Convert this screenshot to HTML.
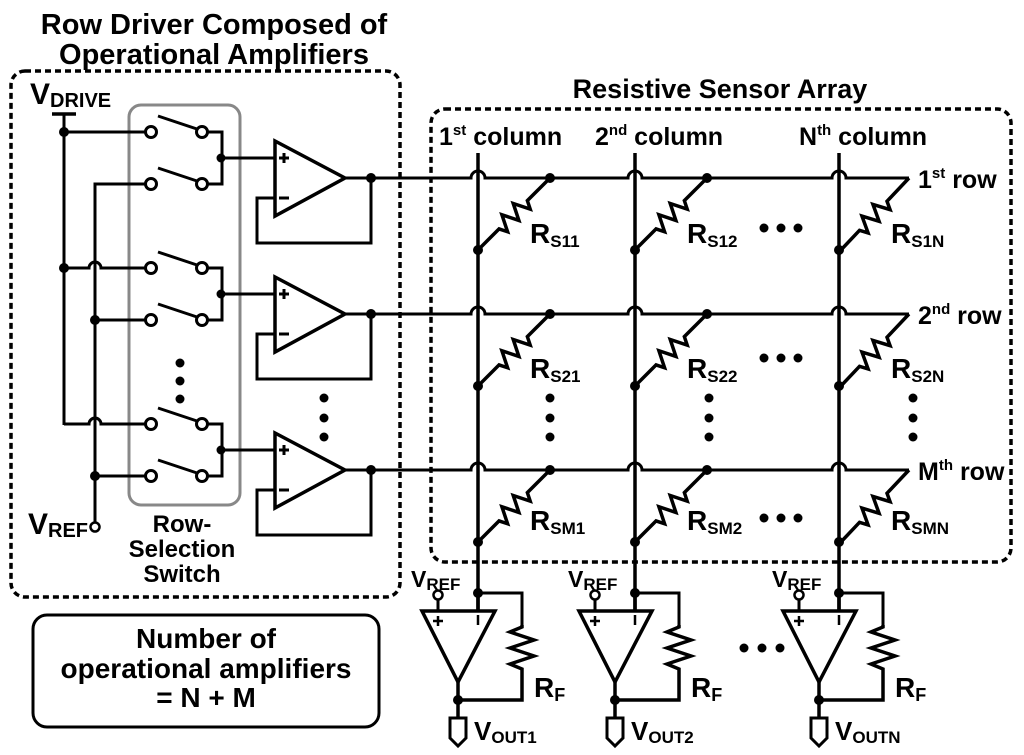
<!DOCTYPE html>
<html><head><meta charset="utf-8"><style>
html,body{margin:0;padding:0;background:#fff}
svg{display:block}
text{font-family:"Liberation Sans",Arial,sans-serif;font-weight:bold;fill:#000}
</style></head><body>
<svg width="1024" height="755" viewBox="0 0 1024 755" xmlns="http://www.w3.org/2000/svg">
<defs>
<g id="rd"><path d="M0,0 L32,0 L36,-8 L44,8 L52,-8 L60,8 L68,-8 L72,0 L102,0" fill="none" stroke="#000" stroke-width="3.5" stroke-linejoin="miter"/></g>
<g id="sw">
<circle cx="151" cy="0" r="5.5" fill="#fff" stroke="#000" stroke-width="3"/>
<circle cx="202" cy="0" r="5.5" fill="#fff" stroke="#000" stroke-width="3"/>
<line x1="158" y1="-16" x2="197" y2="-3" stroke="#000" stroke-width="3"/>
<line x1="207" y1="0" x2="223" y2="0" stroke="#000" stroke-width="3"/>
</g>
<g id="dr">
<use href="#sw" transform="translate(0,-46)"/>
<use href="#sw" transform="translate(0,6)"/>
<line x1="222" y1="-47.5" x2="222" y2="7.5" stroke="#000" stroke-width="3"/>
<circle cx="221" cy="-20" r="4.5" fill="#000"/>
<line x1="222" y1="-20" x2="275" y2="-20" stroke="#000" stroke-width="3"/>
<path d="M275,-37 L275,38 L345,0 Z" fill="#fff" stroke="#000" stroke-width="3.5" stroke-linejoin="miter"/>
<path d="M279,-20 h10 M284,-25 v10" stroke="#000" stroke-width="3"/>
<path d="M279,20 h10" stroke="#000" stroke-width="3"/>
<path d="M345,0 L371,0 L371,65 L257,65 L257,20 L275,20" fill="none" stroke="#000" stroke-width="3"/>
<circle cx="371" cy="0" r="5" fill="#000"/>
</g>
<g id="bo">
<circle cx="0" cy="593" r="5" fill="#000"/>
<path d="M0,593 L44,593 L44,625" fill="none" stroke="#000" stroke-width="3"/>
<path d="M44,625 L44,627 L32,632 L56,640 L32,648 L56,656 L32,664 L44,669 L44,700 L-20,700" fill="none" stroke="#000" stroke-width="3.5"/>
<path d="M-56,611 L17,611 L-20,682 Z" fill="#fff" stroke="#000" stroke-width="3.5"/>
<line x1="0" y1="593" x2="0" y2="611" stroke="#000" stroke-width="3.5"/>
<line x1="-40" y1="599" x2="-40" y2="611" stroke="#000" stroke-width="3"/>
<circle cx="-40" cy="595" r="4.5" fill="#fff" stroke="#000" stroke-width="2.5"/>
<path d="M-45,621 h10 M-40,616 v10" stroke="#000" stroke-width="2.5"/>
<path d="M0,615 v10" stroke="#000" stroke-width="2.5"/>
<line x1="-20" y1="682" x2="-20" y2="718" stroke="#000" stroke-width="3.5"/>
<circle cx="-20" cy="700" r="5" fill="#000"/>
<path d="M-28,718 L-12,718 L-12,738 L-20,746 L-28,738 Z" fill="#fff" stroke="#000" stroke-width="3"/>
</g>
</defs>

<text x="214" y="34" font-size="29" text-anchor="middle">Row Driver Composed of</text>
<text x="214" y="64" font-size="29" text-anchor="middle">Operational Amplifiers</text>
<text x="720" y="98" font-size="27" text-anchor="middle">Resistive Sensor Array</text>

<rect x="11" y="71" width="389" height="526" rx="14" fill="none" stroke="#000" stroke-width="3.5" stroke-dasharray="6,4"/>
<rect x="431" y="109" width="580" height="453" rx="14" fill="none" stroke="#000" stroke-width="3.5" stroke-dasharray="6,4"/>
<rect x="129" y="105" width="111" height="400" rx="12" fill="none" stroke="#888" stroke-width="3"/>

<text x="30" y="104" font-size="30">V<tspan font-size="20" dy="3">DRIVE</tspan></text>
<line x1="52" y1="114" x2="76" y2="114" stroke="#000" stroke-width="3.5"/>
<line x1="64" y1="114" x2="64" y2="425" stroke="#000" stroke-width="3"/>
<circle cx="64" cy="132" r="5" fill="#000"/>
<circle cx="64" cy="268" r="5" fill="#000"/>
<path d="M64,132 L146,132" stroke="#000" stroke-width="3"/>
<path d="M64,268 L89,268 A6,6 0 0 1 101,268 L146,268" fill="none" stroke="#000" stroke-width="3"/>
<path d="M64,424 L89,424 A6,6 0 0 1 101,424 L146,424" fill="none" stroke="#000" stroke-width="3"/>
<path d="M146,184 L95,184 L95,522" fill="none" stroke="#000" stroke-width="3"/>
<path d="M95,320 L146,320 M95,476 L146,476" stroke="#000" stroke-width="3"/>
<circle cx="95" cy="320" r="5" fill="#000"/>
<circle cx="95" cy="476" r="5" fill="#000"/>
<circle cx="95" cy="527" r="4.5" fill="#fff" stroke="#000" stroke-width="2.5"/>
<text x="28" y="534" font-size="30">V<tspan font-size="20" dy="3">REF</tspan></text>

<use href="#dr" transform="translate(0,178)"/>
<use href="#dr" transform="translate(0,314)"/>
<use href="#dr" transform="translate(0,470)"/>

<g fill="#000">
<circle cx="180" cy="363" r="4.5"/><circle cx="180" cy="381" r="4.5"/><circle cx="180" cy="399" r="4.5"/>
<circle cx="324" cy="398" r="4.5"/><circle cx="324" cy="418" r="4.5"/><circle cx="324" cy="437" r="4.5"/>
</g>
<text x="182" y="532" font-size="24" text-anchor="middle">Row-</text>
<text x="182" y="557" font-size="24" text-anchor="middle">Selection</text>
<text x="182" y="582" font-size="24" text-anchor="middle">Switch</text>

<g fill="none" stroke="#000" stroke-width="3">
<path d="M371,178 L471,178 A7,7 0 0 1 485,178 L628,178 A7,7 0 0 1 642,178 L832,178 A7,7 0 0 1 846,178 L909,178"/>
<path d="M371,314 L471,314 A7,7 0 0 1 485,314 L628,314 A7,7 0 0 1 642,314 L832,314 A7,7 0 0 1 846,314 L909,314"/>
<path d="M371,470 L471,470 A7,7 0 0 1 485,470 L628,470 A7,7 0 0 1 642,470 L832,470 A7,7 0 0 1 846,470 L909,470"/>
</g>
<g stroke="#000" stroke-width="3.5">
<line x1="478" y1="153" x2="478" y2="611"/>
<line x1="635" y1="153" x2="635" y2="611"/>
<line x1="839" y1="153" x2="839" y2="611"/>
</g>
<text x="439" y="145" font-size="25">1<tspan font-size="15" dy="-10">st</tspan><tspan dy="10"> column</tspan></text>
<text x="595" y="145" font-size="25">2<tspan font-size="15" dy="-10">nd</tspan><tspan dy="10"> column</tspan></text>
<text x="799" y="145" font-size="25">N<tspan font-size="15" dy="-10">th</tspan><tspan dy="10"> column</tspan></text>
<text x="918" y="188" font-size="25">1<tspan font-size="15" dy="-10">st</tspan><tspan dy="10"> row</tspan></text>
<text x="918" y="324" font-size="25">2<tspan font-size="15" dy="-10">nd</tspan><tspan dy="10"> row</tspan></text>
<text x="918" y="480" font-size="25">M<tspan font-size="15" dy="-10">th</tspan><tspan dy="10"> row</tspan></text>

<use href="#rd" transform="translate(550,178) rotate(135)"/>
<use href="#rd" transform="translate(707,178) rotate(135)"/>
<use href="#rd" transform="translate(909,178) rotate(133.4)"/>
<use href="#rd" transform="translate(550,314) rotate(135)"/>
<use href="#rd" transform="translate(707,314) rotate(135)"/>
<use href="#rd" transform="translate(909,314) rotate(133.4)"/>
<use href="#rd" transform="translate(550,470) rotate(135)"/>
<use href="#rd" transform="translate(707,470) rotate(135)"/>
<use href="#rd" transform="translate(909,470) rotate(133.4)"/>
<g fill="#000">
<circle cx="550" cy="178" r="5"/><circle cx="707" cy="178" r="5"/>
<circle cx="550" cy="314" r="5"/><circle cx="707" cy="314" r="5"/>
<circle cx="550" cy="470" r="5"/><circle cx="707" cy="470" r="5"/>
<circle cx="478" cy="250" r="5"/><circle cx="635" cy="250" r="5"/><circle cx="839" cy="250" r="5"/>
<circle cx="478" cy="386" r="5"/><circle cx="635" cy="386" r="5"/><circle cx="839" cy="386" r="5"/>
<circle cx="478" cy="542" r="5"/><circle cx="635" cy="542" r="5"/><circle cx="839" cy="542" r="5"/>
<circle cx="550" cy="398" r="4.5"/><circle cx="550" cy="418" r="4.5"/><circle cx="550" cy="437" r="4.5"/>
<circle cx="709" cy="398" r="4.5"/><circle cx="709" cy="418" r="4.5"/><circle cx="709" cy="437" r="4.5"/>
<circle cx="913" cy="398" r="4.5"/><circle cx="913" cy="418" r="4.5"/><circle cx="913" cy="437" r="4.5"/>
<circle cx="764" cy="228" r="4.5"/><circle cx="781" cy="228" r="4.5"/><circle cx="798" cy="228" r="4.5"/>
<circle cx="764" cy="358" r="4.5"/><circle cx="781" cy="358" r="4.5"/><circle cx="798" cy="358" r="4.5"/>
<circle cx="764" cy="518" r="4.5"/><circle cx="781" cy="518" r="4.5"/><circle cx="798" cy="518" r="4.5"/>
<circle cx="744" cy="648" r="4.5"/><circle cx="762" cy="648" r="4.5"/><circle cx="780" cy="648" r="4.5"/>
</g>
<g font-size="28">
<text x="530" y="243">R<tspan font-size="17" dy="4">S11</tspan></text>
<text x="687" y="243">R<tspan font-size="17" dy="4">S12</tspan></text>
<text x="891" y="243">R<tspan font-size="17" dy="4">S1N</tspan></text>
<text x="530" y="378">R<tspan font-size="17" dy="4">S21</tspan></text>
<text x="687" y="378">R<tspan font-size="17" dy="4">S22</tspan></text>
<text x="891" y="378">R<tspan font-size="17" dy="4">S2N</tspan></text>
<text x="530" y="530">R<tspan font-size="17" dy="4">SM1</tspan></text>
<text x="687" y="530">R<tspan font-size="17" dy="4">SM2</tspan></text>
<text x="891" y="530">R<tspan font-size="17" dy="4">SMN</tspan></text>
</g>

<use href="#bo" transform="translate(478,0)"/>
<use href="#bo" transform="translate(635,0)"/>
<use href="#bo" transform="translate(839,0)"/>
<g font-size="23">
<text x="411" y="587">V<tspan font-size="17" dy="3">REF</tspan></text>
<text x="568" y="587">V<tspan font-size="17" dy="3">REF</tspan></text>
<text x="772" y="587">V<tspan font-size="17" dy="3">REF</tspan></text>
</g>
<g font-size="28">
<text x="534" y="697">R<tspan font-size="18" dy="4">F</tspan></text>
<text x="691" y="697">R<tspan font-size="18" dy="4">F</tspan></text>
<text x="895" y="697">R<tspan font-size="18" dy="4">F</tspan></text>
</g>
<g font-size="26">
<text x="474" y="740">V<tspan font-size="17" dy="3">OUT1</tspan></text>
<text x="631" y="740">V<tspan font-size="17" dy="3">OUT2</tspan></text>
<text x="835" y="740">V<tspan font-size="17" dy="3">OUTN</tspan></text>
</g>

<rect x="33" y="615" width="346" height="112" rx="14" fill="none" stroke="#000" stroke-width="3"/>
<text x="206" y="648" font-size="28" text-anchor="middle">Number of</text>
<text x="206" y="678" font-size="28" text-anchor="middle">operational amplifiers</text>
<text x="206" y="707" font-size="28" text-anchor="middle">= N + M</text>
</svg>
</body></html>
